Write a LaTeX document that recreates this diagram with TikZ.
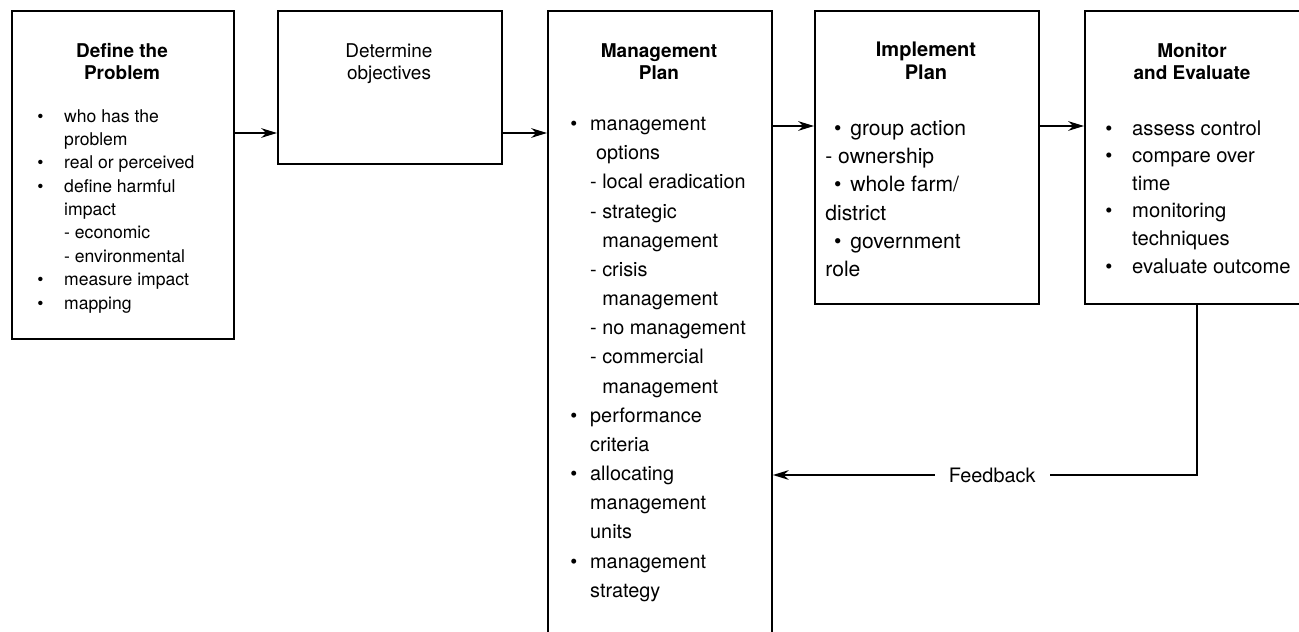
\documentclass[tikz,border=0pt]{standalone}
\usepackage{fontspec}
\setmainfont{TeX Gyre Heros}
\usetikzlibrary{arrows.meta}

\newlength{\bulw}
\newlength{\bulx}
\newcommand{\bitem}[1]{\makebox[\bulw][l]{\hspace*{\bulx}\textbullet}#1}
\newcommand{\citem}[1]{\hspace*{\bulw}#1}
\newcommand{\ditem}[1]{\hspace*{\bulw}- #1}
\newcommand{\dcont}[1]{\hspace*{\bulw}\phantom{- }#1}

\tikzset{
	box/.style={draw, line width=1.1pt, inner sep=0pt, anchor=north west},
	title/.style={anchor=north, align=center, inner sep=0pt, font=\fontsize{10.8}{12.8}\selectfont\bfseries},
	body/.style={anchor=north west, align=left, inner sep=0pt},
	flow/.style={line width=1pt, -{Stealth[length=9pt,width=5.5pt]}}
}

\begin{document}
\begin{tikzpicture}[x=0.02cm, y=-0.02cm]
			\clip (0,0) rectangle (1299,632);
			\coordinate (r1) at (0,133);
			\coordinate (r2) at (0,126);
			\coordinate (fbturn) at (1197,475);
			% boxes
			\node[box, minimum width=4.44cm, minimum height=6.56cm] (define) at (11,10) {};
			\node[box, minimum width=4.48cm, minimum height=3.06cm] (determine) at (277,10) {};
			\node[box, minimum width=4.48cm, minimum height=12.44cm] (plan) at (547,10) {};
			\node[box, minimum width=4.48cm, minimum height=5.86cm] (implement) at (814,10) {};
			\node[box, minimum width=4.34cm, minimum height=5.86cm] (monitor) at (1084,10) {};
			% titles
			\node[title] (definetitle) at (122,43) {Define the\\Problem};
			\node[title, font=\fontsize{10.8}{12.8}\selectfont] (determinetitle) at (389,43) {Determine\\objectives};
			\node[title] (plantitle) at (659,43) {Management\\Plan};
			\node[title, font=\fontsize{11.4}{12.8}\selectfont\bfseries] (implementtitle) at (926,42) {Implement\\Plan};
			\node[title] (monitortitle) at (1192,43) {Monitor\\and Evaluate};
			% lists
			\node[body, font=\fontsize{10}{13.3}\selectfont\setlength{\bulw}{15.3pt}\setlength{\bulx}{0pt}] (definelist) at (37,109) {\bitem{who has the}\\ \citem{problem}\\ \bitem{real or perceived}\\ \bitem{define harmful}\\ \citem{impact}\\ \ditem{economic}\\ \ditem{environmental}\\ \bitem{measure impact}\\ \bitem{mapping}};
			\node[body, font=\fontsize{11.3}{16.6}\selectfont\setlength{\bulw}{11.3pt}\setlength{\bulx}{0pt}] (planlist) at (570,117) {\bitem{management}\\ \citem{\hspace*{0.3em}options}\\ \ditem{local eradication}\\ \ditem{strategic}\\ \dcont{management}\\ \ditem{crisis}\\ \dcont{management}\\ \ditem{no management}\\ \ditem{commercial}\\ \dcont{management}\\ \bitem{performance}\\ \citem{criteria}\\ \bitem{allocating}\\ \citem{management}\\ \citem{units}\\ \bitem{management}\\ \citem{strategy}};
			\node[body, font=\fontsize{12}{16.1}\selectfont\setlength{\bulw}{14.2pt}\setlength{\bulx}{5pt}] (implementlist) at (825,120) {\bitem{group action}\\ - ownership\\ \bitem{whole farm/}\\ district\\ \bitem{government}\\ role};
			\node[body, font=\fontsize{11.5}{15.7}\selectfont\setlength{\bulw}{15.3pt}\setlength{\bulx}{0pt}] (monitorlist) at (1105,120) {\bitem{assess control}\\ \bitem{compare over}\\ \citem{time}\\ \bitem{monitoring}\\ \citem{techniques}\\ \bitem{evaluate outcome}};
			% connectors
			\draw[flow] (define.east |- r1) -- (determine.west |- r1);
			\draw[flow] (determine.east |- r1) -- (plan.west |- r1);
			\draw[flow] (plan.east |- r2) -- (implement.west |- r2);
			\draw[flow] (implement.east |- r2) -- (monitor.west |- r2);
			\draw[flow] (monitor.south -| fbturn) -- (fbturn) -- node[pos=0.483, fill=white, inner xsep=8pt, font=\fontsize{11.3}{12.8}\selectfont] (feedback) {Feedback} (fbturn -| plan.east);
		\end{tikzpicture}
\end{document}
